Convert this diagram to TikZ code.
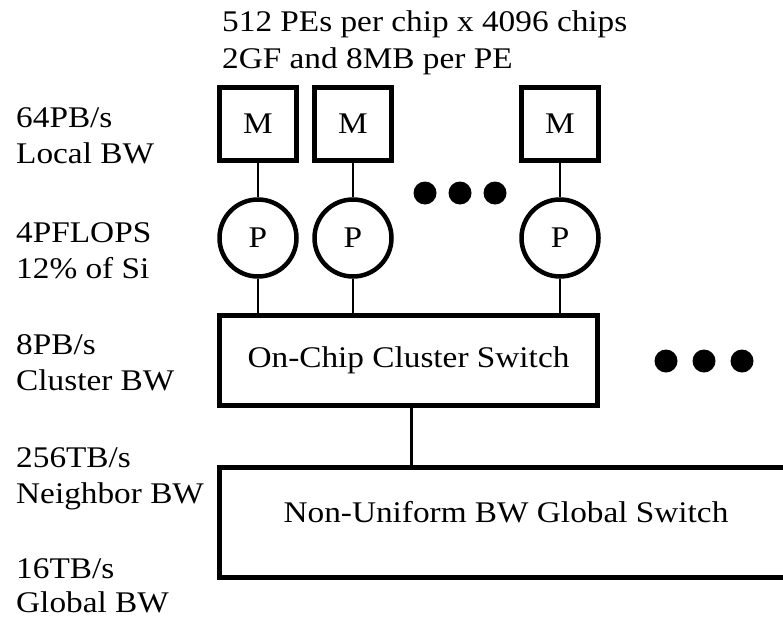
\documentclass[tikz,border=0pt]{standalone}
\usepackage{fontspec}
\setmainfont{Liberation Serif}[FakeStretch=1.11]
\begin{document}
\begin{tikzpicture}[x=1pt,y=-1pt,
  every node/.style={font=\fontsize{30}{36}\selectfont, inner sep=0pt},
  lbl/.style={anchor=base west},
  mbox/.style={draw, line width=5pt, minimum width=77pt, minimum height=73pt},
  pcirc/.style={draw, circle, line width=4.5pt, minimum size=77pt},
  swbox/.style={draw, line width=5pt},
  conn/.style={line width=2.8pt},
  bigdot/.style={fill, circle, minimum size=23pt}
]
\useasboundingbox (0,0) rectangle (783,618);
% header
\node[lbl] (h1) at (222,32) {512 PEs per chip x 4096 chips};
\node[lbl] (h2) at (222,68) {2GF and 8MB per PE};
% left labels
\node[lbl] (a1) at (16,127) {64PB/s};
\node[lbl] (a2) at (16,163) {Local BW};
\node[lbl] (b1) at (16,242) {4PFLOPS};
\node[lbl] (b2) at (16,278) {12\% of Si};
\node[lbl] (c1) at (16,354) {8PB/s};
\node[lbl] (c2) at (16,390) {Cluster BW};
\node[lbl] (d1) at (16,467) {256TB/s};
\node[lbl] (d2) at (16,503) {Neighbor BW};
\node[lbl] (e1) at (16,578) {16TB/s};
\node[lbl] (e2) at (16,612) {Global BW};
% memories
\node[mbox] (m1) at (258,124) {M};
\node[mbox] (m2) at (353,124) {M};
\node[mbox] (m3) at (560,124) {M};
% processors
\node[pcirc] (p1) at (258,238) {P};
\node[pcirc] (p2) at (353,238) {P};
\node[pcirc] (p3) at (560,238) {P};
% dots
\node[bigdot] (d11) at (425,193) {};
\node[bigdot] (d12) at (460,193) {};
\node[bigdot] (d13) at (495,193) {};
% cluster switch
\node[swbox, minimum width=378pt, minimum height=90pt] (csw) at (408.5,360.5) {On-Chip Cluster Switch};
\node[bigdot] (d21) at (666,361) {};
\node[bigdot] (d22) at (704,361) {};
\node[bigdot] (d23) at (742,361) {};
% global switch
\node[swbox, minimum width=580pt, minimum height=110pt] (gsw) at (509,522.5) {};
\node (gtxt) at (506,512) {Non-Uniform BW Global Switch};
% connectors
\draw[conn] (m1) -- (p1);
\draw[conn] (m2) -- (p2);
\draw[conn] (m3) -- (p3);
\draw[conn] (p1) -- (p1 |- csw.north);
\draw[conn] (p2) -- (p2 |- csw.north);
\draw[conn] (p3) -- (p3 |- csw.north);
\draw[conn] (csw.south) ++(3,0) coordinate (cs) -- (cs |- gsw.north);
\end{tikzpicture}
\end{document}
